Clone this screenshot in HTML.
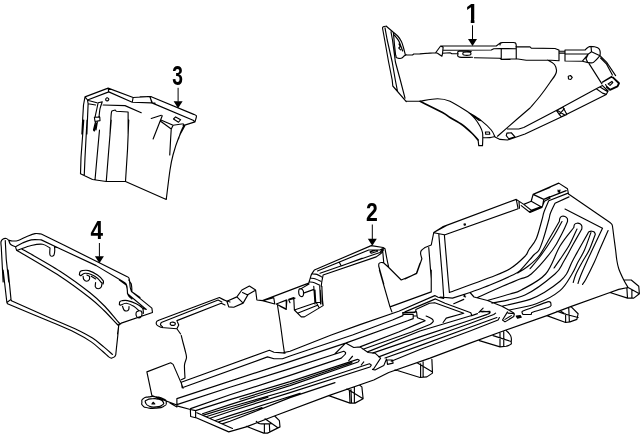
<!DOCTYPE html>
<html lang="en"><head><meta charset="utf-8"><title>Parts diagram</title>
<style>html,body{margin:0;padding:0;background:#fff;overflow:hidden}svg{display:block;will-change:transform}.n{font-family:"Liberation Sans",sans-serif;font-weight:700;text-anchor:middle;fill:#000}</style>
</head><body>
<svg width="640" height="434" viewBox="0 0 640 434">
<path fill="none" stroke="#000" stroke-width="1.15" stroke-linecap="round" stroke-linejoin="round" d="M382.5 28 L384.7 40 L388.6 62 L392.2 80 L392.8 86 L406.25 101.6 M385 27.8 L387.2 40 L392.2 62 L395.3 80 L397.5 91.25 M391 31.9 L392.5 40 L395.4 62 L400.3 80 L405 98.1 M393.4 32.8 L394.5 45 L395.6 55 M382.5 28 C382.63 27.78 382.67 27 383.3 26.7 C383.93 26.4 385.8 26.28 386.3 26.2 M386.3 26.2 C387.33 27.08 390.53 29.78 392.5 31.5 C394.47 33.22 396.62 34.83 398.1 36.5 C399.58 38.17 400.53 39.75 401.4 41.5 C402.27 43.25 402.67 44.85 403.3 47 C403.93 49.15 404.88 53.17 405.2 54.4 M394.4 35 C395.1 35.93 397.5 38.68 398.6 40.6 C399.7 42.52 400.33 44.77 401 46.5 C401.67 48.23 402.33 50.25 402.6 51 M399 44 L400.2 46.5 L398.8 48 L400.6 49.8 M401.5 47.5 L402 50 M396.25 57.5 C396.71 57.65 398.06 58.3 399 58.4 C399.94 58.5 401 58.53 401.9 58.1 C402.8 57.67 403.67 56.37 404.4 55.8 C405.13 55.23 405.98 54.88 406.3 54.7 M395.8 55 L396.25 57.5 M406.5 54.75 L412.5 55 L413.75 54 L420 54 L430 53 M420 53.75 L430 53.12 L435.62 52.75 L440.62 46 L496.25 46 L500 43.12 M440.62 46 L443.12 47.25 L442.5 53.75 L441.88 56.25 L437.5 53.25 L435.62 52.75 M443.12 50.25 L491.25 50 L493.75 48.75 L499.75 48.5 M442.5 53.25 L450 52.75 L451.88 53.75 L458.12 53.75 M471.25 51.5 C468.88 51.45 462.02 50.8 459.38 51.25 C456.73 51.7 457.98 52.58 458 53.75 C458.02 54.92 456.6 56.42 459.5 57.12 C462.4 57.83 469.9 57.23 472.5 57.25 M463.75 52.25 C464.94 52.02 468.81 52.02 470 52.25 C471.19 52.48 470.88 53.17 470.88 53.62 C470.88 54.08 471.19 54.77 470 55 C468.81 55.23 464.94 55.23 463.75 55 C462.56 54.77 462.88 54.08 462.88 53.62 C462.88 53.17 462.56 52.48 463.75 52.25Z M474.38 57.75 L500 58.25 L501.25 59.38 L510 59.5 M500 45 C500.08 44.67 500.08 43.42 500.5 43 C500.92 42.58 502.17 42.58 502.5 42.5 M502.5 42.5 L513 42.5 M513 42.5 C513.42 42.58 514.96 42.5 515.5 43 C516.04 43.5 516.12 45.08 516.25 45.5 M516.25 45.5 L516.25 58.75 M501.25 48.75 L501.25 59 M501.25 59.25 L516.25 58.75 L526.25 60.25 L547.5 60 L558.75 60.75 M515.75 46.75 L530 46.9 L531.25 48.1 L555 48.5 L558.75 50 M499.75 48.5 L515.75 48.75 M559 50 L559 60.75 M559 51.25 L565 51.25 M559 53.12 L565 53.12 M565 50 L565 61 M565 50 L585.25 50 M565 54 L588.25 54 M565 61 L582.5 61.25 M585.2 50 C585.74 49.49 586.15 48.66 587.5 47.8 C588.85 46.94 588.62 46.3 591 46.3 C593.38 46.3 595.6 46.7 597.7 47.8 C599.8 48.9 599.46 49.16 600 51 C600.54 52.84 600 54.6 600 55.7 M591 46.3 L591.5 51.75 L600 55.7 M591.5 51.75 L588.3 54.1 L586 58.8 L587.5 62 M582.4 61.2 L588.3 54.1 M582.4 61.2 C584.34 61.6 587.85 62.85 590.7 62.9 C593.55 62.95 592.43 63.08 594.6 61.4 C596.77 59.72 598.74 57.03 600 55.7 M600 55.7 L607 62.7 L615.6 75.6 M600.6 58 L606.6 64.2 L612.4 75 M588.75 63.1 L601.9 83.9 M611.9 76.25 L602.5 81.9 M602.5 82.3 L611.25 77.3 L613.1 77.6 M606.9 87 L605.6 84.5 M608.1 83.9 L611.9 81.4 L612.8 82.6 L610 85.4Z M547.5 60 C548.67 60.75 553.04 62.42 554.5 64.5 C555.96 66.58 557 69.5 556.25 72.5 C555.5 75.5 552.71 78.54 550 82.5 C547.29 86.46 543.33 92 540 96.25 C536.67 100.5 531.67 106.04 530 108 M530 108 C527.92 109.79 522.92 114.04 517.5 118.75 C512.08 123.46 500.83 133.33 497.5 136.25 M568.25 76.25 L570.5 75.5 L572.25 77.5 L570.75 79.5 L568.5 79Z M602.5 85.6 L596.25 88.75 L556.25 110.6 L523.75 127.5 L518.75 129 L507.5 129 M608.1 91 L606.25 94.4 L561.25 116.9 L525 134 L515 137.5 L507.5 140 M596.25 88.75 L602.5 93.1 L606.25 94.4 M600 86.9 L606.9 91.25 M602.5 85.6 L608.1 91 M556.25 110.4 L563 107.2 L566.9 114.4 L561.25 116.9Z M558 110.8 L565 115.2 M564.3 108.6 L559.2 114.6 M506.9 133.1 L511.25 132.75 L515 136.9 L508.75 138.75 L506.25 135.6Z M406.25 101.25 L420 101.25 M420 101.25 C422.92 100.83 432.5 98.75 437.5 98.75 C442.5 98.75 444.79 98.96 450 101.25 C455.21 103.54 463.54 109.28 468.75 112.5 C473.96 115.72 477.5 117.68 481.25 120.6 C485 123.52 488.96 127.28 491.25 130 C493.54 132.72 494.38 135.75 495 136.9 M478.1 140 L478.75 145.6 L482.5 145.6 L482.75 140 M468.75 112.5 C469.79 113.54 473.12 116.46 475 118.75 C476.88 121.04 478.75 123.96 480 126.25 C481.25 128.54 482.04 130.21 482.5 132.5 C482.96 134.79 482.71 138.75 482.75 140 M470.5 113.5 L478.75 120.3 L481.25 120.6 M482.75 137.7 C483.96 137.68 487.96 137.8 490 137.6 C492.04 137.4 494.17 136.68 495 136.5 M485.4 132 L489.4 132 L489.8 134.2 L485.8 134.3Z M495 136.9 L500 139.4 L507.5 140 M81.88 134 L82.75 117.5 L83.5 105 L85 96.88 L108.12 88.12 L133.12 97.5 L151.25 96.5 M87.5 100 L108.75 91.88 L108.12 88.12 M108.75 91.88 L132.25 102.25 M133.12 97.5 L132.25 102.25 M132.25 102.25 L151.25 102.88 L155 103.12 M150 96.75 L151.88 102.75 M85 96.88 L87.5 100 M87.5 100 L88.12 103.75 L86.88 134 M87.5 100.25 L96.88 102.75 M88.12 103.75 L95.62 105 M105.75 99.38 C105.88 98.62 105.79 98.62 106.38 98.12 C106.96 97.62 106.75 97.67 107.5 97.88 C108.25 98.08 108.29 98 108.62 98.75 C108.96 99.5 109 99.42 108.5 100.12 C108 100.83 107.96 100.79 107.12 100.88 C106.29 100.96 106.46 100.88 106 100.38 C105.54 99.88 105.62 100.12 105.75 99.38Z M98.12 102.75 C97.92 103.75 97.4 106.33 96.88 108.75 C96.35 111.17 95.31 115.83 95 117.25 M102.25 101.88 C101.88 103.02 100.54 106.19 100 108.75 C99.46 111.31 99.17 115.83 99 117.25 M98.12 102.75 L102.25 101.88 M94.38 117.25 L99.75 117 L100 120.62 L95 121.5Z M95.62 121.5 L93.5 130 L94.38 131 L96.5 123.12 M97.5 121.25 L96 130 M103.12 105 L125 105.62 L141.25 112.75 M110 134 C110.21 130.62 110.83 117.62 111.25 113.75 C111.67 109.88 112.29 111.25 112.5 110.75 M112.5 110.75 L115.25 110 L116.25 111.25 L128.12 112 L128.12 134 M140 96.88 L150.62 96.5 L193.75 114.38 M193.75 114.38 C194.17 114.58 195.83 115.1 196.25 115.62 C196.67 116.15 196.25 117.19 196.25 117.5 M196.25 117.5 L195 121.88 L183.12 125.62 M151.25 102.88 L152.5 103.12 L193.12 120.25 M150 97.25 L152.5 103.12 M193.12 120.25 L195 121.88 M173.5 119 L175.62 116.88 L180.62 119.75 L178.5 122.25Z M151.25 118.5 L161.25 115.25 M162.25 115.75 L153.12 139 M161.5 120.25 L173.12 125.25 M160.62 121.25 L171.25 129 M173.12 125.25 L171.25 129 L170.62 139 L169.75 155 M173.12 125.25 L183.12 123.75 M183.12 123.75 C183.27 124 184 124.73 184 125.25 C184 125.77 183.69 125.67 183.12 126.88 C182.56 128.08 181.4 130.48 180.62 132.5 C179.85 134.52 178.85 137.92 178.5 139 M80.5 173.75 L92.5 179.5 L106.25 181.5 L125.5 181.5 L166.25 199.5 M166.25 199.5 C166.88 194.58 168.88 177.42 170 170 C171.12 162.58 171.54 160.42 173 155 C174.46 149.58 176.75 142.42 178.75 137.5 C180.75 132.58 183.96 127.5 185 125.5 M83.75 120 L81 157.5 L80.5 173.75 M87 120 L85 157.5 L84.25 175.5 M99.5 130 L97 157.5 L95 180 M111.25 120 L108.75 150 L106.25 181.5 M128.75 120 L127.5 150 L125.5 181.5 M1.25 246.75 C1.21 245.92 0.69 243.04 1 241.75 C1.31 240.46 2.25 239.54 3.12 239 C4 238.46 5.31 238.29 6.25 238.5 C7.19 238.71 8.33 239.96 8.75 240.25 M8.75 240.25 C9.38 240.38 10.94 240.96 12.5 241 C14.06 241.04 15.73 241.25 18.12 240.5 C20.52 239.75 24.06 237.65 26.88 236.5 C29.69 235.35 32.6 234.04 35 233.62 C37.4 233.21 40.21 233.94 41.25 234 M8.75 240.25 C8.96 240.81 9.48 242.79 10 243.62 C10.52 244.46 10.94 244.73 11.88 245.25 C12.81 245.77 15 246.5 15.62 246.75 M15.62 246.75 C16.77 246.12 19.9 244.15 22.5 243 C25.1 241.85 28.12 240.4 31.25 239.88 C34.38 239.35 39.58 239.88 41.25 239.88 M15.62 246.75 C15.73 247.17 15.94 248.67 16.25 249.25 C16.56 249.83 16.88 250.25 17.5 250.25 C18.12 250.25 17.71 250.04 20 249.25 C22.29 248.46 27.5 246.33 31.25 245.5 C35 244.67 39.38 243.83 42.5 244.25 C45.62 244.67 48.75 247.38 50 248 M50 248 C49.96 248.83 49.71 251.75 49.75 253 C49.79 254.25 49.83 254.96 50.25 255.5 C50.67 256.04 51.62 256.33 52.25 256.25 C52.88 256.17 53.58 255.96 54 255 C54.42 254.04 54.67 251.83 54.75 250.5 C54.83 249.17 54.54 247.58 54.5 247 M54.5 247 L56.88 247.5 M1.25 246.75 L3.12 282 M5.25 240.5 L6.25 259.25 L8.75 282 M3.12 270 L6.88 302.5 L7.5 303.75 M8.12 270 L11 299.38 L11.5 300.75 M6.88 302.5 L11 299.38 M41.25 234 L63.75 245 L98.75 262.5 L126.25 276.25 M126.25 276.25 C126.67 276.5 128.21 277.02 128.75 277.75 C129.29 278.48 129.25 279 129.5 280.62 C129.75 282.25 129.92 285.69 130.25 287.5 C130.58 289.31 131.29 290.83 131.5 291.5 M131.5 291.5 L140 297.5 M41.25 239.88 L60 248.75 L96.25 265.62 L122.5 281.25 M122.5 281.25 C123.08 281.67 125.25 282.81 126 283.75 C126.75 284.69 126.75 285.42 127 286.88 C127.25 288.33 127.25 291.04 127.5 292.5 C127.75 293.96 127.77 294.54 128.5 295.62 C129.23 296.71 131.31 298.44 131.88 299 M79.38 274.75 C79.48 274.27 79.52 272.56 80 271.88 C80.48 271.19 80.79 270.83 82.25 270.62 C83.71 270.42 86.21 269.9 88.75 270.62 C91.29 271.35 95.1 273.33 97.5 275 C99.9 276.67 102.19 279.12 103.12 280.62 C104.06 282.12 103.12 283.44 103.12 284 M80.62 275.75 C81.35 275.33 83.23 273.46 85 273.25 C86.77 273.04 89.17 273.67 91.25 274.5 C93.33 275.33 95.83 276.92 97.5 278.25 C99.17 279.58 100.62 281.79 101.25 282.5 M83.12 276.25 C83.23 276.77 83.17 278.54 83.75 279.38 C84.33 280.21 85.69 281.23 86.62 281.25 C87.56 281.27 88.9 280.33 89.38 279.5 C89.85 278.67 89.48 276.79 89.5 276.25 M95.62 282.5 C95.58 283.23 94.96 285.83 95.38 286.88 C95.79 287.92 97.15 288.73 98.12 288.75 C99.1 288.77 100.6 288.04 101.25 287 C101.9 285.96 101.88 283.25 102 282.5 M79.38 274.75 L80.62 275.75 M86.88 275 L89.38 276.25 M91.25 276.25 L95.62 279 M128.75 280 L131.25 283.75 M131.25 283.75 C131.33 284.38 131.65 286.15 131.75 287.5 C131.85 288.85 131.85 291.15 131.88 291.88 M131.88 291.88 L151.88 308.12 L152.5 312.5 L121.25 323.12 L118.75 325.25 L117.5 334 M119.38 280 L126.25 285 M126.25 285 C126.42 285.73 127.04 287.92 127.25 289.38 C127.46 290.83 127.46 293.02 127.5 293.75 M127.5 293.75 L146.25 309.38 M119.38 304.62 C119.44 304.17 119.33 302.52 119.75 301.88 C120.17 301.23 120.58 300.96 121.88 300.75 C123.17 300.54 125.1 300.12 127.5 300.62 C129.9 301.12 133.75 302.5 136.25 303.75 C138.75 305 141.31 306.5 142.5 308.12 C143.69 309.75 143.23 312.6 143.38 313.5 M120.62 305.25 C121.56 304.92 124.06 303.08 126.25 303.25 C128.44 303.42 131.62 305 133.75 306.25 C135.88 307.5 138.12 310 139 310.75 M122.5 306.25 C122.75 306.88 123.27 309.21 124 310 C124.73 310.79 126.08 311.08 126.88 311 C127.67 310.92 128.4 310.25 128.75 309.5 C129.1 308.75 128.96 307 129 306.5 M139 310.75 C138.58 310.96 136.96 311.19 136.5 312 C136.04 312.81 135.98 314.67 136.25 315.62 C136.52 316.58 137.33 317.54 138.12 317.75 C138.92 317.96 140.35 317.58 141 316.88 C141.65 316.17 142 314.48 142 313.5 C142 312.52 141.5 311.46 141 311 C140.5 310.54 139.33 310.79 139 310.75 M119.38 304.62 L120.62 305.25 M142.5 308.12 L146.25 309.38 M7.5 303.75 C14.58 306.71 38.75 316.71 50 321.5 C61.25 326.29 68.12 329.1 75 332.5 C81.88 335.9 86.67 338.77 91.25 341.9 C95.83 345.02 99.58 348.75 102.5 351.25 C105.42 353.75 107.29 355.74 108.75 356.9 C110.21 358.06 110.83 357.98 111.25 358.2 M11.4 300.8 C17.83 303.67 39.4 313.34 50 318 C60.6 322.66 67.92 325.4 75 328.75 C82.08 332.1 87.71 335.08 92.5 338.1 C97.29 341.12 100.42 344.18 103.75 346.9 C107.08 349.62 111.04 353.15 112.5 354.4 M21.9 249 C28.25 252.71 48.65 263.95 60 271.25 C71.35 278.55 82.5 286.93 90 292.8 C97.5 298.68 100.21 301.55 105 306.5 C109.79 311.45 116.04 319.73 118.75 322.5 C121.46 325.27 120.83 323 121.25 323.1 M16.5 250.2 C23.75 254.54 47.75 268.28 60 276.25 C72.25 284.22 82.67 292.29 90 298 C97.33 303.71 99.52 306.17 104 310.5 C108.48 314.83 114.44 321.55 116.9 324 C119.36 326.45 118.44 325 118.75 325.2 M111.25 358.25 C111.77 358.02 113.62 357.46 114.38 356.88 C115.12 356.29 115.52 355.1 115.75 354.75 M115.75 354.75 C115.88 353.54 116.1 351.21 116.5 347.5 C116.9 343.79 117.75 336.35 118.12 332.5 C118.5 328.65 118.65 325.73 118.75 324.38 M158.75 320.25 L219.38 297.5 L223.75 300 L230 302 M158.75 320.25 C158.38 320.52 156.81 321.08 156.5 321.88 C156.19 322.67 156.08 324.06 156.88 325 C157.67 325.94 160.52 327.08 161.25 327.5 M161.25 327.5 L176.88 328.75 L180.62 334 M176.88 328.75 L178.75 325 L176.88 320.62 M161.25 322.5 L218.12 300 L221.88 302 M176.88 320.62 L221.25 303.25 L225 305 M161.25 322.5 C161.12 322.88 160.29 324.04 160.5 324.75 C160.71 325.46 162.17 326.42 162.5 326.75 M170.25 323.75 C170.25 322.96 170.04 323.04 170.88 322.5 C171.71 321.96 171.46 322.04 172.75 322.12 C174.04 322.21 173.92 322.17 174.75 322.75 C175.58 323.33 175.33 323.12 175.25 323.88 C175.17 324.62 175.33 324.5 174.5 325 C173.67 325.5 173.96 325.42 172.75 325.38 C171.54 325.33 171.71 325.42 170.88 324.88 C170.04 324.33 170.25 324.54 170.25 323.75Z M219.38 297.5 L226.88 301.25 L228.75 306.88 L233.75 307.25 L243.12 303.12 L248.12 294.38 L255 290.62 M226.88 301.25 L236.88 296.88 L241.88 290 L249.38 286 L255.62 290 L256.88 300 L262.5 300.62 L298.75 286.88 L308.75 283.12 M236.88 296.88 L243.12 303.12 M242.5 292.5 L247.75 295 M262.5 300.62 L273.75 297.75 L274.75 304Z M276.25 304 L286.88 300 L286.25 309Z M288.75 300 L295 298.12 M288.75 300 L290 302.75 M181.25 335.5 C181.54 336.67 182.38 340.08 183 342.5 C183.62 344.92 184.42 347.5 185 350 C185.58 352.5 186.58 355 186.5 357.5 C186.42 360 184.75 361.58 184.5 365 C184.25 368.42 184.92 375.83 185 378 M185 378 L181.25 379.75 M308.75 283.12 C309 282.29 309.79 279.58 310.25 278.12 C310.71 276.67 310.81 275.73 311.5 274.38 C312.19 273.02 313.9 270.73 314.38 270 M314.4 270 L371.25 245.6 L383.1 247.5 L385 248.75 M317.5 271 L368.75 250 L380 250 L382.25 248.75 M320 273.25 L372.5 255 L380 252.5 L383.25 248.75 M323.1 275 L376.25 256.9 L381.25 253.25 L383.5 250 M339.4 262.5 L341.25 266 L362 258.2 M311.88 273.75 C312.71 273.85 315.27 273.85 316.88 274.38 C318.48 274.9 320.73 276.46 321.5 276.88 M310.62 278.12 C311.46 278.27 313.96 278.48 315.62 279 C317.29 279.52 319.79 280.88 320.62 281.25 M309.38 281.88 C310.21 282.02 312.65 282.19 314.38 282.75 C316.1 283.31 318.85 284.83 319.75 285.25 M323.12 275 C322.92 276.04 322.19 279.38 321.88 281.25 C321.56 283.12 321.35 285.42 321.25 286.25 M299 289.75 C298.58 290.96 298.58 290.67 298.75 292.5 C298.92 294.33 298.67 293.92 299.5 295.25 C300.33 296.58 300.08 296.33 301.25 296.5 C302.42 296.67 302.25 296.88 303 295.75 C303.75 294.62 303.5 294.88 303.5 293.12 C303.5 291.38 303.67 291.88 303 290.5 C302.33 289.12 302.5 289.54 301.5 289 C300.5 288.46 300.83 288.62 300 288.88 C299.17 289.12 299.42 288.54 299 289.75Z M300.75 288.88 L309 284 M303.5 293.12 L314 289.38 M313.75 286.25 L315 304 M319.75 286.25 L320.62 304 M321.88 286.25 L322.25 304 M293.75 297.5 L294.38 310 L301.25 316.88 L304.38 316.88 L323.12 305.62 L322.5 300 L322 290 M294.38 310 L316.25 302.5 L320 302.5 M297.5 313.25 L317.5 305.25 M315 290 L315.75 302.5 M320.25 290 L320.75 302 M316.25 302.5 L319 307.5 M280 302.5 L286.25 300 L286.25 309.38 L280 306.25 M288.75 299.38 L293.75 297.5 M370 251.88 L376.25 250 L377.5 251.25 L371.25 253.25Z M385 248.75 C385.31 250.42 386.25 255.62 386.88 258.75 C387.5 261.88 388.44 266.04 388.75 267.5 M388.75 267.5 L401.25 280 L416.25 273.75 L420 263.12 M382.5 248.75 L383.75 262.75 M378.75 266.25 C378.79 265.79 378.58 264.12 379 263.5 C379.42 262.88 380.5 262.62 381.25 262.5 C382 262.38 383.12 262.71 383.5 262.75 M383.5 262.75 L388.75 267.5 M378.75 266.25 L383.75 284 M379.38 270 L390 306.88 L391.88 311.88 M431.25 270 L431.25 291.88 L390 306.88 M447.5 225 L433.75 232.5 L431.25 245 L425 247.5 M425 247.5 C424.38 248.02 421.98 249.58 421.25 250.62 C420.52 251.67 420.52 252.4 420.62 253.75 C420.73 255.1 421.67 257.92 421.88 258.75 M421.88 258.75 L416.88 273.12 L405 279 M433.75 232.75 L444.38 234.75 M428.75 247.5 L431.25 279 M438.75 233.75 L442.5 279 M444.38 235 L448.12 279 M464 224 L465.25 223.75 L465.5 225 L464.25 225.25Z M433.75 232.5 L442.5 226.88 L516.25 199.38 L520 201.88 L523.75 204.38 L531.25 201.25 L533.12 194.38 L550 187.5 M444.38 235 L518.12 208.75 L516.25 199.38 M519 201.88 L519.5 208.12 M521.25 205.62 L530 212.5 L541.88 207.5 L544.38 201.25 L550 198.25 M533.12 194.38 L543.75 199.38 L550 196.5 M531.25 201.25 L541.88 207.25 M523.75 204.38 L531.25 210.25 L540 207 M533.12 194.38 L558.75 183.12 L567.5 188.75 L568.5 194 M533.12 194.38 L543.75 199.38 L566.25 190.62 M543.75 199.38 L542.5 206.25 L530 211.25 M533.12 194.38 L531.25 200.62 M548.75 200.75 L568.12 193.12 M555 203.25 L569 196.88 M558 190 L559 191.5 L560 190 L559.5 192 L558.25 192Z M568.5 194 L610 222.5 M610 222.5 C610.33 222.83 611.57 223.75 612 224.5 C612.43 225.25 612.5 226.58 612.6 227 M612.6 227 C612.83 228.83 613.5 234.17 614 238 C614.5 241.83 615.13 246.33 615.6 250 C616.07 253.67 616.27 256.88 616.8 260 C617.32 263.12 617.59 265.42 618.75 268.75 C619.91 272.08 622.19 276.88 623.75 280 C625.31 283.12 627.38 286.25 628.1 287.5 M565 209 L602.5 228.3 M602.5 228.3 C600.78 231.92 594.85 244.38 592.2 250 C589.55 255.62 588.55 257.67 586.6 262 C584.65 266.33 581.93 272.42 580.5 276 C579.07 279.58 578.42 282.25 578 283.5 M608.1 230.6 C606.67 233.83 601.78 244.77 599.5 250 C597.22 255.23 596.65 257.17 594.4 262 C592.15 266.83 587.98 275.25 586 279 C584.02 282.75 583.08 283.58 582.5 284.5 M623.75 280 L631.25 280 L638.75 286.25 L639.38 293.75 L633.75 298.12 L627.5 298.12 L610 292.5 M610 292.5 L618.75 289.38 L628.12 287.5 L639.38 293.75 M626.88 288.12 L627.5 298.12 M631.88 290 L631.88 298.12 M548.75 200.75 C547.96 202.62 545.14 208.79 544 212 C542.86 215.21 543.19 215.54 541.9 220 C540.61 224.46 538.44 233.75 536.25 238.75 C534.06 243.75 530.62 247.08 528.75 250 C526.88 252.92 528.12 253.12 525 256.25 C521.88 259.38 515.83 265.21 510 268.75 C504.17 272.29 500.1 273.54 490 277.5 C479.9 281.46 456.17 290 449.4 292.5 M555 203.25 C554.25 204.88 551.54 210.21 550.5 213 C549.46 215.79 549.88 215.92 548.75 220 C547.62 224.08 545.38 232.5 543.75 237.5 C542.12 242.5 540.67 247.08 539 250 C537.33 252.92 536.92 251.57 533.75 255 C530.58 258.43 523.96 267.06 520 270.6 C516.04 274.14 515 273.85 510 276.25 C505 278.65 496.67 282.29 490 285 C483.33 287.71 473.33 291.25 470 292.5 M559.3 221.5 C559.42 220.92 559.55 218.87 560 218 C560.45 217.13 561.17 216.55 562 216.3 C562.83 216.05 564.12 216.13 565 216.5 C565.88 216.87 566.88 217.67 567.3 218.5 C567.72 219.33 567.47 221 567.5 221.5 M559.3 221.5 C557.75 224.17 553.42 231.71 550 237.5 C546.58 243.29 542.58 251.33 538.75 256.25 C534.92 261.17 530.54 264.21 527 267 C523.46 269.79 519.08 272 517.5 273 M562 221.5 C560.62 223.96 557.21 230.67 553.75 236.25 C550.29 241.83 545.21 249.58 541.25 255 C537.29 260.42 531.88 266.46 530 268.75 M567.5 221.5 C566.67 223.33 565 227.75 562.5 232.5 C560 237.25 557.71 243.08 552.5 250 C547.29 256.92 536.67 269.17 531.25 274 C525.83 278.83 524.79 276.96 520 279 C515.21 281.04 509.58 283.17 502.5 286.25 C495.42 289.33 481.67 295.62 477.5 297.5 M573.8 227.5 C573.92 227 573.97 225.22 574.5 224.5 C575.03 223.78 576.08 223.32 577 223.2 C577.92 223.08 579.2 223.33 580 223.8 C580.8 224.27 581.5 225.13 581.8 226 C582.1 226.87 581.8 228.5 581.8 229 M573.8 227.5 C571.5 230.58 564.7 238.25 560 246 C555.3 253.75 552.06 266.67 545.6 274 C539.14 281.33 527.18 286.67 521.25 290 C515.32 293.33 515.62 292.25 510 294 C504.38 295.75 491.25 299.42 487.5 300.5 M577 229 C575.75 231.63 572.33 239.73 569.5 244.8 C566.67 249.87 562.58 255.53 560 259.4 C557.42 263.27 555 266.57 554 268 M581.8 229 C580.32 231.63 575.97 239.3 572.9 244.8 C569.83 250.3 566.38 257.13 563.4 262 C560.42 266.87 561.4 268.5 555 274 C548.6 279.5 535.52 290.15 525 295 C514.48 299.85 497.42 301.75 491.9 303.1 M587.9 233.4 C588.08 233.13 588.35 232.17 589 231.8 C589.65 231.43 590.93 231.17 591.8 231.2 C592.67 231.23 593.62 231.5 594.2 232 C594.78 232.5 595.12 233.83 595.3 234.2 M587.9 233.4 C586.33 236.17 581.15 245.23 578.5 250 C575.85 254.77 574 258 572 262 C570 266 568.5 270.79 566.5 274 C564.5 277.21 563.58 278.25 560 281.25 C556.42 284.25 550 288.98 545 292 C540 295.02 537.18 297.02 530 299.4 C522.82 301.77 506.58 305.11 501.9 306.25 M590.9 232.6 C589.83 235.5 586.65 245.1 584.5 250 C582.35 254.9 580.08 258 578 262 C575.92 266 575 269.23 572 274 C569 278.77 565.96 285.64 560 290.6 C554.04 295.56 544.79 300.52 536.25 303.75 C527.71 306.98 513.33 308.96 508.75 310 M595.3 234.2 C594.28 236.83 591.37 245.37 589.2 250 C587.03 254.63 584.5 258 582.3 262 C580.1 266 577.52 270.58 576 274 C574.48 277.42 573.67 281.08 573.2 282.5 M470 292.5 L474 297 L487.5 300.5 L501.9 306.25 L508.75 310 L513.75 313.1 M470 292.5 L452.5 298.1 L440 297 M146.88 371.88 L170.62 362.75 L173.12 364.38 L181.25 383.12 L183.12 388.12 M146.88 371.88 L151.88 395.62 L176.88 405 M141.88 402.5 C142 400.21 140.83 400.62 143.12 398.75 C145.42 396.88 144.38 397.5 148.75 396.88 C153.12 396.25 151.25 396.17 156.25 396.88 C161.25 397.58 160.42 397.12 163.75 399 C167.08 400.88 166.25 400.08 166.25 402.5 C166.25 404.92 167.08 404.38 163.75 406.25 C160.42 408.12 161.67 407.62 156.25 408.12 C150.83 408.62 152 408.58 147.5 407.75 C143 406.92 144.62 407.38 142.75 405.62 C140.88 403.88 141.75 404.79 141.88 402.5Z M145.62 402.75 C144.79 400.67 144.58 401.33 146.88 400 C149.17 398.67 148.54 399 152.5 398.75 C156.46 398.5 155.21 398.21 158.75 399.25 C162.29 400.29 162.08 399.88 163.12 401.88 C164.17 403.88 164.17 403.62 161.88 405.25 C159.58 406.88 160.42 406.42 156.25 406.75 C152.08 407.08 152.92 407.58 149.38 406.25 C145.83 404.92 146.46 404.83 145.62 402.75Z M151.88 404 L153.12 402.25 L154.75 404Z M176.88 398.75 L176.88 405.88 L190.38 409.5 L190.62 416.5 L195.62 417.75 L195.62 410.62 M170 403.12 L176.88 406.88 M190.38 409.5 L195.62 410.62 M195.62 417.5 L228.75 431.88 L246.25 426.88 M196.88 412.75 L232.5 428.5 M246.25 426.9 L273.75 416.25 L328.75 395.6 L373.75 380 L388.75 372.5 L430 358.1 L470 343.1 L502.5 331.25 L546.9 315.6 L570 306.9 L610 292.5 M181.25 382.2 L269.4 350.3 L274 352.2 L282.5 352.9 L290 351.25 L331.25 335 L360 324.6 L398.75 311.25 L434.8 295.6 L438.1 297.2 L443.75 298.5 M182.2 387.8 L267.5 356.9 L274 358.75 L282.5 358.75 L290 356 L352.5 335 L392.5 320 L402.9 315.6 M405 311.9 L435.5 298.9 L445 303.2 L470.8 312.8 L471.8 315.6 L477.5 313.6 M181.25 382.2 L182.2 387.8 M176.9 398.6 L290 361.6 L345.6 343.1 L407.5 320.8 L413.2 318.6 M415.8 309.5 L429.5 303.2 L434.7 302.7 L463.75 313.2 L446.25 318.1 L443.1 322.5 M176.9 404.6 L230 387.3 L290 368.6 L343.75 351.25 M343.75 351.25 C344.04 351.46 345.29 351.96 345.5 352.5 C345.71 353.04 345.71 353.57 345 354.5 C344.29 355.43 341.88 357.5 341.25 358.1 M341.25 358.1 L290 375.4 L230 394.8 L190.6 408.6 M195.6 410.6 L230 399.6 L290 381.6 L357.5 359.4 M357.5 359.4 C357.8 359.55 359.22 359.87 359.3 360.3 C359.38 360.73 358.22 361.72 358 362 M358 362 L290 385.6 L230 404.6 L202.5 413.75 M240 399.3 L290 383.7 L352 362.6 M202.8 415.4 L230 407 L290 389.8 L369.4 363.75 M369.4 363.75 C369.72 363.96 371.2 364.46 371.3 365 C371.4 365.54 370.22 366.67 370 367 M370 367 L290 392.6 L230 411.5 L210 418.2 M206 416.8 L230 409.2 L268 397.3 M214.8 420.7 L230 415.6 L300 393.2 M218 422.1 L230 418.2 L262 407.6 M222.2 423.9 L230 421.3 L290 397.6 L335 382.6 M345.6 343.1 L353.75 347.5 L360 346.9 L368.1 352.5 L375 353.1 L380.6 358.1 L373.75 368.75 L372.5 369.4 L375 370 L383.75 365.6 L386.5 359 M345.6 343.1 L335 353.75 M348.75 360.6 L352.5 356.25 M361.25 365 L363.75 361.9 M386.9 360 L392.5 360 L393.1 363.1 L387.5 364.4Z M360 346.9 L398.6 332 L420 322.9 L425.2 320.8 M363 349.2 L411.5 332 L430.4 324.2 M430.4 324.2 C430.87 323.75 432.92 322.37 433.2 321.5 C433.48 320.63 433.28 319.92 432.1 319 C430.92 318.08 427.1 316.5 426.1 316 M367.5 351.9 L420 331 L470 316 L471.8 315.6 M372.5 353.1 L420 336.9 L470 320.3 L486.5 314.6 M486.5 314.6 C487.33 314.23 489 313.92 489.6 313.2 C490.2 312.48 490.64 312.42 488.75 311.9 C486.86 311.38 485.17 311.09 482.5 311.25 C479.83 311.41 479.75 312.17 478.75 312.5 M378.75 356.9 L420 341.25 L470 323.5 L493.75 314.5 L495.6 313.1 M385 358 L420 345.6 L470 327.3 L496.9 317.5 M391.25 361.25 L420 349.5 L470 331 L498.1 320 L499.4 317.5 M246.25 426.25 L263.75 433.12 L267.5 433.12 L280 426.88 L279.38 420.62 L275 416.25 M256.25 421.25 C256.88 421.67 257.5 423.33 260 423.75 C262.5 424.17 269.38 423.75 271.25 423.75 M265 418.75 L277.5 427.5 M264.38 424.38 L264.38 432.75 M269.38 424.38 L269.75 432.25 M328.75 395.62 L350 403.12 L355 403.12 L363.12 398.75 L361.88 386.88 L359.38 385 M349.38 390 L350 403.12 M351 389.5 L351.5 403.12 M354.38 386.88 L354.38 403.12 M346.88 388.75 L363.12 398.75 M395 369.75 L420 377.5 L426.88 376.88 L432.5 373.12 L431.88 359.38 M420.62 363.75 L420.62 377.5 M423.12 361.88 L423.12 377 M417.5 363.12 L432.5 371.88 M479.38 340.62 L500 346.88 L506.25 346.25 M506.25 346.25 C507.42 345.75 509.29 345.54 510.62 344.38 C511.96 343.21 511.25 344.21 511.25 341.88 C511.25 339.54 511.96 338.62 510.62 335.62 C509.29 332.62 507.42 331.96 506.25 330.62 M500 333.12 L500 346.88 M503.75 331.88 L503.75 346.25 M493.12 335.62 L511 341.5 M546.88 315.62 L565.62 322.5 L570 321.88 L576.88 319.38 L578.12 313.75 L571.25 306.88 M565.62 313.75 L565.62 322.5 M568.75 308.12 L569.38 321.88 M556.88 311.25 L563.75 313.75 L578.12 317.5 M560 310.62 L564 313.25 M522.5 311.25 C521.28 311.88 522.69 314.22 523.12 314.38 C523.56 314.53 530.81 314.47 531.25 314.38 C531.69 314.28 531.03 312.84 531.88 312.5 C532.72 312.16 547.17 307.84 548.12 307.5 C549.08 307.16 550.88 305.88 551 305.62 C551.12 305.38 550.8 302.69 550.62 302.5 C550.45 302.31 548.91 301.44 547.5 301.88 C546.09 302.31 523.72 310.62 522.5 311.25Z M507.5 311.88 L502.5 320 L505 321.88 L513.75 316.5 M508.12 313.12 L514.38 313.75 L513.75 316.5 M505 319.38 L511.25 315.62 M516.25 316 L520.25 315.5 L521.25 317.25 L517.5 318.25Z M517 316.75 L520.25 316.5 M517.25 317.5 L519.75 317.25 M453.75 303.75 L463.75 299.38 M479.38 311.88 L483.12 308.12 M481.88 311.88 L490 311.25 M463.12 295 L465 295 L464 296.5 L465.62 296.88 M402.9 312.7 L402.9 315.6 M403.7 314.4 L413.2 314.4 L413.2 318.6 M414.9 312.3 L415.8 310.6 L416.6 312.2 L417.1 316 L413.2 316 M417.1 316 L417.5 317.8 L420.9 319 L424.4 320.3 M442.5 279 L443.75 297.5 M448.1 279 L449.4 292.5 M431.25 279 L431.25 291.9 M277.5 305.25 L280.4 324 L283.1 344 L284.4 352.6 M283.9 352.2 L285 352.2 L285 353.2 L283.9 353.2Z"/>
<path fill="none" stroke="#000" stroke-width="1.84" stroke-linecap="round" stroke-linejoin="round" d="M613.1 77.6 L619 83.25 L617.5 86.4 L610 89.8 L606.9 87"/>
<path fill="none" stroke="#000" stroke-width="1.61" stroke-linecap="round" stroke-linejoin="round" d="M420 101.25 C423.75 103.12 437.5 109.79 442.5 112.5 C447.5 115.21 446.67 115.42 450 117.5 C453.33 119.58 458.75 122.29 462.5 125 C466.25 127.71 469.9 131.25 472.5 133.75 C475.1 136.25 477.17 138.96 478.1 140"/>
<path fill="none" stroke="#000" stroke-width="1.49" stroke-linecap="round" stroke-linejoin="round" d="M402.9 312.7 L414.9 312.3"/>
<path d="M472.5 25.3 V39.5" stroke="#000" stroke-width="1" fill="none"/>
<path d="M468 39 H477 L472.5 46Z" fill="#000"/>
<path d="M372.3 224.5 V239.3" stroke="#000" stroke-width="1" fill="none"/>
<path d="M367.8 238.8 H376.8 L372.3 245.8Z" fill="#000"/>
<path d="M178.1 87.8 V101.8" stroke="#000" stroke-width="1" fill="none"/>
<path d="M173.6 101.3 H182.6 L178.1 108.3Z" fill="#000"/>
<path d="M99.4 243 V256.7" stroke="#000" stroke-width="1" fill="none"/>
<path d="M94.9 256.2 H103.9 L99.4 263.2Z" fill="#000"/>
<clipPath id="k0"><path d="M460 0H482V19.2H474.45V24H470.75V19.2H460Z"/></clipPath><g clip-path="url(#k0)"><text class="n" transform="translate(471.95 22.5) scale(0.86 1)" font-size="27.5">1</text></g>
<text class="n" transform="translate(371.9 221.4) scale(0.8 1)" font-size="26.5">2</text>
<text class="n" transform="translate(177.7 84.6) scale(0.7 1)" font-size="27.5">3</text>
<text class="n" transform="translate(96.85 238.5) scale(0.85 1)" font-size="26.5">4</text>
</svg>
</body></html>
